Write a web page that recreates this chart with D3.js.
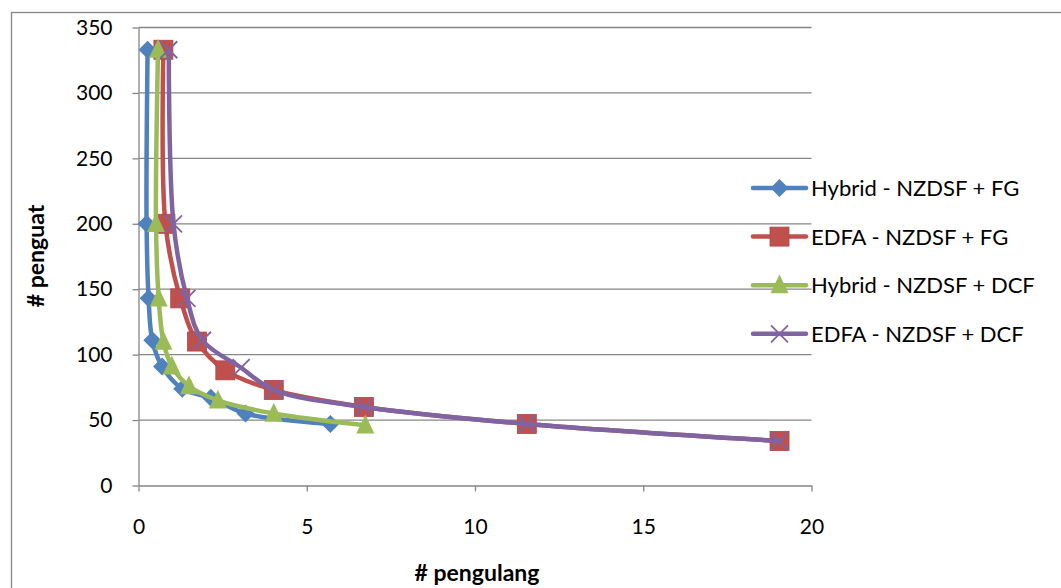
<!DOCTYPE html>
<html>
<head>
<meta charset="utf-8">
<script src="https://cdn.jsdelivr.net/npm/d3@7"></script>
<style>
  html, body { margin: 0; padding: 0; background: #ffffff; }
  svg { display: block; }
  text { font-family: Lato, "Open Sans", "Liberation Sans", sans-serif; fill: #000; }
</style>
</head>
<body>
<svg id="chart" width="1061" height="588"></svg>
<script>
// Number of repeaters (x) against number of amplifiers (y), per configuration
const seriesNames = [
  "Hybrid - NZDSF + FG",
  "EDFA - NZDSF + FG",
  "Hybrid - NZDSF + DCF",
  "EDFA - NZDSF + DCF"
];
const hybridFgX   = [0.27, 0.24, 0.3, 0.41, 0.7, 1.3, 2.15, 3.18, 5.7];
const hybridFgY   = [333, 200, 143, 111, 91, 74, 67, 55, 47];
const edfaFgX     = [0.74, 0.8, 1.24, 1.74, 2.58, 4.02, 6.7, 11.54, 19.05];
const edfaFgY     = [333, 200, 143, 110, 88, 73, 60, 47, 34];
const hybridDcfX  = [0.58, 0.52, 0.6, 0.74, 0.99, 1.5, 2.36, 4.02, 6.74];
const hybridDcfY  = [333, 200, 143, 110, 91, 76, 65, 55, 46];
const edfaDcfX    = [0.9, 1.04, 1.44, 1.9, 3.05, 4.02, 6.7, 11.54, 19.05];
const edfaDcfY    = [333, 200, 143, 111, 90, 73, 60, 47, 34];
const xTicks = [0, 5, 10, 15, 20];
const yTicks = [0, 50, 100, 150, 200, 250, 300, 350];
const colors = ["#4F81BD", "#C0504D", "#9BBB59", "#8064A2"];
const markers = ["diamond", "square", "triangle", "cross"];

const seriesX = [hybridFgX, edfaFgX, hybridDcfX, edfaDcfX];
const seriesY = [hybridFgY, edfaFgY, hybridDcfY, edfaDcfY];
const series = seriesNames.map((name, i) => ({
  name, color: colors[i], marker: markers[i],
  points: seriesX[i].map((x, j) => ({ x, y: seriesY[i][j] }))
}));

const svg = d3.select("#chart");
const plot = { left: 138.5, right: 811.5, top: 27.5, bottom: 485.5 };
const x = d3.scaleLinear().domain([0, 20]).range([plot.left, plot.right]);
const y = d3.scaleLinear().domain([0, 350]).range([plot.bottom, plot.top]);
const gridColor = "#868686";
const tickFont = 21;

// chart frame
svg.append("rect")
  .attr("x", 11.5).attr("y", 12.5).attr("width", 1100).attr("height", 640)
  .attr("fill", "none").attr("stroke", gridColor).attr("stroke-width", 1.3);

// horizontal gridlines
svg.append("g").selectAll("line").data(yTicks.filter(d => d > 0)).join("line")
  .attr("x1", plot.left).attr("x2", plot.right)
  .attr("y1", d => y(d)).attr("y2", d => y(d))
  .attr("stroke", gridColor).attr("stroke-width", 1.3);

// y axis
const yAxis = svg.append("g")
  .attr("transform", `translate(${plot.left},0)`)
  .call(d3.axisLeft(y).tickValues(yTicks).tickSize(6).tickPadding(20).tickSizeOuter(0));
yAxis.select(".domain").attr("stroke", gridColor).attr("stroke-width", 1.3);
yAxis.selectAll(".tick line").attr("stroke", gridColor).attr("stroke-width", 1.3);
yAxis.selectAll(".tick text").attr("font-size", tickFont).attr("font-family", "Lato, sans-serif").attr("fill", "#000");

// x axis
const xAxis = svg.append("g")
  .attr("transform", `translate(0,${plot.bottom})`)
  .call(d3.axisBottom(x).tickValues(xTicks).tickSize(6).tickPadding(28).tickSizeOuter(0));
xAxis.select(".domain").attr("stroke", gridColor).attr("stroke-width", 1.3);
xAxis.selectAll(".tick line").attr("stroke", gridColor).attr("stroke-width", 1.3);
xAxis.selectAll(".tick text").attr("font-size", tickFont).attr("font-family", "Lato, sans-serif").attr("fill", "#000");

// axis titles
svg.append("text")
  .attr("x", 477).attr("y", 581).attr("text-anchor", "middle")
  .attr("font-size", 23).attr("font-weight", "bold").text("# pengulang");
svg.append("text")
  .attr("transform", "translate(44,256) rotate(-90)").attr("text-anchor", "middle")
  .attr("font-size", 23).attr("font-weight", "bold").text("# penguat");

// marker shapes
function drawMarker(g, type, color, cx, cy, s) {
  const r = s / 2;
  if (type === "diamond") {
    g.append("path")
      .attr("d", `M${cx},${cy - r}L${cx + r},${cy}L${cx},${cy + r}L${cx - r},${cy}Z`)
      .attr("fill", color);
  } else if (type === "square") {
    g.append("rect").attr("x", cx - r).attr("y", cy - r)
      .attr("width", s).attr("height", s).attr("fill", color)
      .attr("stroke", d3.color(color).darker(0.3)).attr("stroke-width", 0.8);
  } else if (type === "triangle") {
    g.append("path")
      .attr("d", `M${cx},${cy - s * 0.6}L${cx + r},${cy + s * 0.45}L${cx - r},${cy + s * 0.45}Z`)
      .attr("fill", color);
  } else if (type === "cross") {
    g.append("path")
      .attr("d", `M${cx - r},${cy - r}L${cx + r},${cy + r}M${cx - r},${cy + r}L${cx + r},${cy - r}`)
      .attr("stroke", color).attr("stroke-width", 1.8).attr("fill", "none");
  }
}
const markerSize = { diamond: 18, square: 19, triangle: 18, cross: 17 };

const line = d3.line().x(d => x(d.x)).y(d => y(d.y)).curve(d3.curveCatmullRom.alpha(0.5));

series.forEach(s => {
  const g = svg.append("g");
  g.append("path").datum(s.points).attr("d", line)
    .attr("fill", "none").attr("stroke", s.color).attr("stroke-width", 4.5)
    .attr("stroke-linejoin", "round").attr("stroke-linecap", "round");
  s.points.forEach(p => drawMarker(g, s.marker, s.color, x(p.x), y(p.y), markerSize[s.marker]));
});

// legend
const legend = svg.append("g");
series.forEach((s, i) => {
  const ly = 188 + i * 48.6;
  const g = legend.append("g");
  g.append("line").attr("x1", 753).attr("x2", 806).attr("y1", ly).attr("y2", ly)
    .attr("stroke", s.color).attr("stroke-width", 4.5).attr("stroke-linecap", "round");
  drawMarker(g, s.marker, s.color, 779.5, ly, markerSize[s.marker]);
  g.append("text").attr("x", 811).attr("y", ly + 8.2)
    .attr("font-size", 22).text(s.name);
});
</script>
</body>
</html>
